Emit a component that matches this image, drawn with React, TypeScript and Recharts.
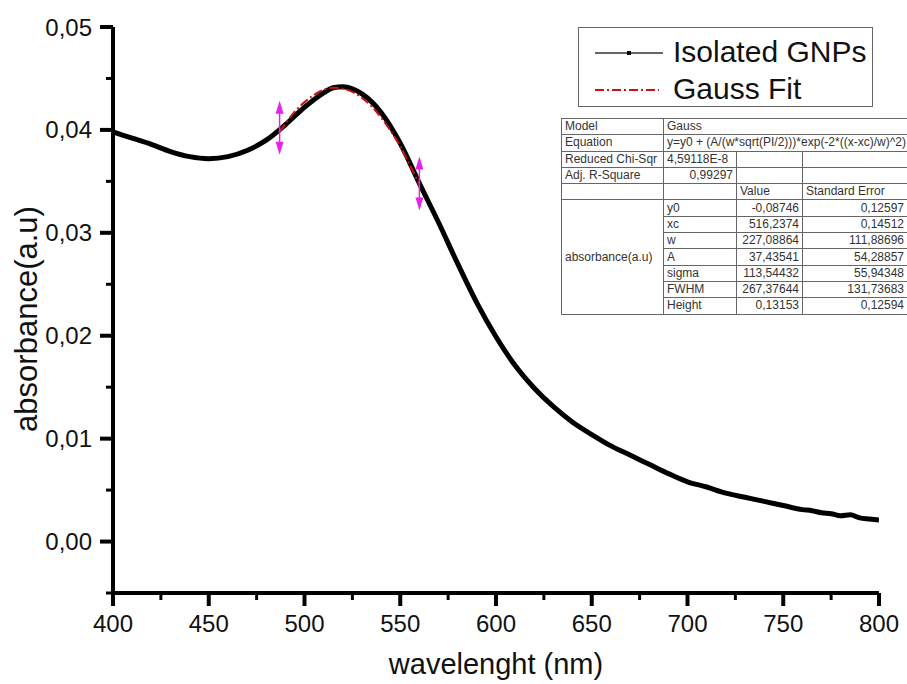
import React from "react";
import {
  ComposedChart,
  Line,
  Scatter,
  XAxis,
  YAxis,
} from "recharts";

// measured spectrum (nm, a.u.)
const wavelengths = [
  400, 410, 420, 430, 440, 450, 460, 470, 480, 490, 500, 510, 515, 520, 525, 530,
  540, 550, 560, 570, 580, 590, 600, 610, 620, 630, 640, 650, 660, 670,
  680, 690, 700, 710, 720, 730, 740, 750, 760, 765, 770, 775, 780, 785, 790, 795, 800,
];
const absorbance = [
  0.0398, 0.0392, 0.0386, 0.0379, 0.0374, 0.0372, 0.0374, 0.0380, 0.0390, 0.0405, 0.0422, 0.0436, 0.0441, 0.0442, 0.0440, 0.0435,
  0.0417, 0.0387, 0.0348, 0.0310, 0.0270, 0.0232, 0.0199, 0.0171, 0.0149, 0.0131, 0.0116, 0.0104, 0.0093, 0.0084,
  0.0075, 0.0066, 0.0058, 0.0053, 0.0047, 0.0043, 0.0039, 0.0035, 0.0031, 0.0030, 0.0028, 0.0027, 0.0025, 0.0026, 0.0023, 0.0022, 0.0021,
];

// gauss fit, only over the fitted range
const fitWavelengths = [487, 490, 495, 500, 505, 510, 515, 520, 525, 530, 535, 540, 545, 550, 555, 560];
const fitValues = [
  0.0398, 0.0406, 0.0418, 0.0427, 0.0434, 0.0439, 0.0441, 0.0440, 0.0437, 0.0431, 0.0423, 0.0412, 0.0399, 0.0384, 0.0366, 0.0347,
];

// fit range markers
const rangeWavelengths = [487, 560];
const rangeValues = [0.0402, 0.0348];

const xTicks = [400, 425, 450, 475, 500, 525, 550, 575, 600, 625, 650, 675, 700, 725, 750, 775, 800];
const yTicks = [-0.005, 0, 0.005, 0.01, 0.015, 0.02, 0.025, 0.03, 0.035, 0.04, 0.045, 0.05];

const fitParams = [
  ["y0", "-0,08746", "0,12597"],
  ["xc", "516,2374", "0,14512"],
  ["w", "227,08864", "111,88696"],
  ["A", "37,43541", "54,28857"],
  ["sigma", "113,54432", "55,94348"],
  ["FWHM", "267,37644", "131,73683"],
  ["Height", "0,13153", "0,12594"],
];

const spectrum = wavelengths.map((wl, i) => ({ wl, abs: absorbance[i] }));
const fit = fitWavelengths.map((wl, i) => ({ wl, fit: fitValues[i] }));
const range = rangeWavelengths.map((wl, i) => ({ wl, mark: rangeValues[i] }));

const FONT = "'Liberation Sans', Arial, sans-serif";
const MAGENTA = "#e822e8";

const XTick = (props: any) => {
  const { x, y, payload } = props;
  const major = payload.value % 50 === 0;
  return (
    <g>
      <line x1={x} y1={y} x2={x} y2={y + (major ? 13 : 7)} stroke="#000" strokeWidth={major ? 4 : 3} />
      {major && (
        <text x={x} y={y + 39} textAnchor="middle" fontSize={24} fontFamily={FONT} fill="#111">
          {payload.value}
        </text>
      )}
    </g>
  );
};

const YTick = (props: any) => {
  const { x, y, payload } = props;
  const v = payload.value as number;
  const major = Math.abs(v * 100 - Math.round(v * 100)) < 1e-6;
  return (
    <g>
      <line x1={x} y1={y} x2={x - (major ? 13 : 7)} y2={y} stroke="#000" strokeWidth={major ? 4 : 3} />
      {major && (
        <text x={x - 21} y={y + 8.5} textAnchor="end" fontSize={24} fontFamily={FONT} fill="#111">
          {v.toFixed(2).replace(".", ",")}
        </text>
      )}
    </g>
  );
};

const RangeArrow = (props: any) => {
  const { cx, cy } = props;
  if (cx == null || cy == null) return null;
  return (
    <g>
      <line x1={cx} y1={cy - 20} x2={cx} y2={cy + 20} stroke={MAGENTA} strokeWidth={1.5} />
      <polygon points={`${cx},${cy - 27} ${cx - 4},${cy - 14} ${cx + 4},${cy - 14}`} fill={MAGENTA} />
      <polygon points={`${cx},${cy + 27} ${cx - 4},${cy + 14} ${cx + 4},${cy + 14}`} fill={MAGENTA} />
    </g>
  );
};

const cell: React.CSSProperties = {
  border: "1px solid #666",
  padding: "0 3px",
  height: 15.3,
  whiteSpace: "nowrap",
  overflow: "hidden",
  lineHeight: "15px",
};
const num: React.CSSProperties = { ...cell, textAlign: "right" };

export default function App() {
  return (
    <div
      style={{
        position: "absolute",
        left: 0,
        top: 0,
        width: 907,
        height: 684,
        overflow: "hidden",
        background: "#fff",
        fontFamily: FONT,
      }}
    >
      <ComposedChart width={907} height={684} margin={{ top: 27, right: 28, bottom: 0, left: 0 }}>
        <XAxis
          type="number"
          dataKey="wl"
          domain={[400, 800]}
          ticks={xTicks}
          height={91}
          tickSize={0}
          tickMargin={0}
          interval={0}
          tick={<XTick />}
          axisLine={{ stroke: "#000", strokeWidth: 4 }}
          allowDataOverflow
          label={{
            content: (p: any) => {
              const vb = p.viewBox;
              return (
                <text x={vb.x + vb.width / 2} y={vb.y + 81} textAnchor="middle" fontSize={29} fontFamily={FONT} fill="#111">
                  wavelenght (nm)
                </text>
              );
            },
          }}
        />
        <YAxis
          type="number"
          domain={[-0.005, 0.05]}
          ticks={yTicks}
          width={113}
          tickSize={0}
          tickMargin={0}
          interval={0}
          tick={<YTick />}
          axisLine={{ stroke: "#000", strokeWidth: 4 }}
          allowDataOverflow
          label={{
            content: (p: any) => {
              const vb = p.viewBox;
              const cy = vb.y + vb.height / 2 + 9;
              return (
                <text
                  x={37}
                  y={cy}
                  transform={`rotate(-90, 37, ${cy})`}
                  textAnchor="middle"
                  fontSize={31}
                  fontFamily={FONT}
                  fill="#111"
                >
                  absorbance(a.u)
                </text>
              );
            },
          }}
        />
        <Line
          data={spectrum}
          dataKey="abs"
          type="monotone"
          stroke="#000"
          strokeWidth={5}
          dot={false}
          isAnimationActive={false}
        />
        <Line
          data={fit}
          dataKey="fit"
          type="monotone"
          stroke="#d01010"
          strokeWidth={2}
          strokeDasharray="9 3 2 3"
          dot={false}
          isAnimationActive={false}
        />
        <Scatter data={range} dataKey="mark" shape={<RangeArrow />} isAnimationActive={false} />
      </ComposedChart>

      {/* legend */}
      <div
        style={{
          position: "absolute",
          left: 578,
          top: 27,
          width: 293,
          height: 78,
          border: "1px solid #666",
          background: "#fff",
        }}
      >
        <svg width={90} height={78} style={{ position: "absolute", left: 0, top: 0 }}>
          <line x1={16} y1={25} x2={84} y2={25} stroke="#333" strokeWidth={1.5} />
          <rect x={48} y={23} width={4} height={4} fill="#000" />
          <line x1={16} y1={62} x2={80} y2={62} stroke="#d01010" strokeWidth={2} strokeDasharray="9 3 2 3" />
        </svg>
        <div style={{ position: "absolute", left: 94, top: 7, fontSize: 30, lineHeight: "34px", color: "#111" }}>
          Isolated GNPs
        </div>
        <div style={{ position: "absolute", left: 94, top: 44, fontSize: 30, lineHeight: "34px", color: "#111" }}>
          Gauss Fit
        </div>
      </div>

      {/* fit results table */}
      <table
        style={{
          position: "absolute",
          left: 561,
          top: 118,
          borderCollapse: "collapse",
          tableLayout: "fixed",
          width: 346,
          fontSize: 12,
          color: "#333",
          background: "#fff",
        }}
      >
        <colgroup>
          <col style={{ width: 102 }} />
          <col style={{ width: 73 }} />
          <col style={{ width: 66 }} />
          <col style={{ width: 105 }} />
        </colgroup>
        <tbody>
          <tr>
            <td style={cell}>Model</td>
            <td style={cell} colSpan={3}>Gauss</td>
          </tr>
          <tr>
            <td style={cell}>Equation</td>
            <td style={cell} colSpan={3}>
              y=y0 + (A/(w*sqrt(PI/2)))*exp(-2*((x-xc)/w)^2)
            </td>
          </tr>
          <tr>
            <td style={cell}>Reduced Chi-Sqr</td>
            <td style={cell}>4,59118E-8</td>
            <td style={cell}></td>
            <td style={cell}></td>
          </tr>
          <tr>
            <td style={cell}>Adj. R-Square</td>
            <td style={num}>0,99297</td>
            <td style={cell}></td>
            <td style={cell}></td>
          </tr>
          <tr>
            <td style={cell}></td>
            <td style={cell}></td>
            <td style={cell}>Value</td>
            <td style={cell}>Standard Error</td>
          </tr>
          {fitParams.map((r, i) => (
            <tr key={r[0]}>
              {i === 0 && (
                <td style={{ ...cell, verticalAlign: "middle" }} rowSpan={fitParams.length}>
                  absorbance(a.u)
                </td>
              )}
              <td style={cell}>{r[0]}</td>
              <td style={num}>{r[1]}</td>
              <td style={num}>{r[2]}</td>
            </tr>
          ))}
        </tbody>
      </table>
    </div>
  );
}
